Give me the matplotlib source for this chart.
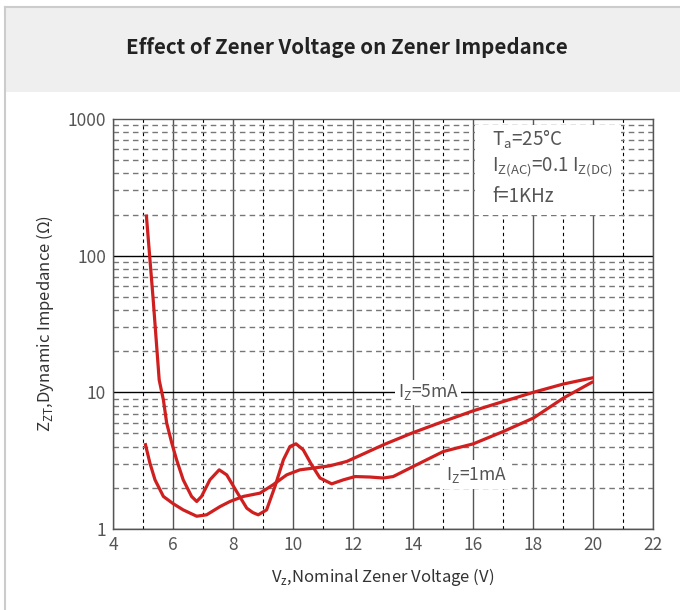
import matplotlib.pyplot as plt
from matplotlib.patches import Rectangle

plt.rcParams['font.family'] = ['Noto Sans CJK SC', 'DejaVu Sans']

# Iz = 1mA curve (starts high at ~200 ohm)
vz_1ma = [5.11, 5.34, 5.54, 5.68, 5.79, 5.96, 6.12, 6.34, 6.62, 6.79, 6.95, 7.23, 7.54,
          7.79, 8.12, 8.46, 8.66, 8.84, 9.12, 9.4, 9.68, 9.9, 10.1, 10.34, 10.62,
          10.9, 11.29, 11.68, 12.07, 12.57, 13.01, 13.34, 14.01, 15.01, 16.01,
          17.01, 18.01, 19.01, 20.01]
z_1ma = [200, 47.5, 12.3, 8.8, 5.95, 4.25, 3.21, 2.29, 1.73, 1.59, 1.73, 2.29, 2.71,
         2.49, 1.88, 1.42, 1.32, 1.27, 1.38, 2.05, 3.21, 4.02, 4.2, 3.8, 2.95,
         2.36, 2.14, 2.29, 2.42, 2.4, 2.36, 2.42, 2.87, 3.69, 4.2,
         5.17, 6.48, 9.07, 12.0]

# Iz = 5mA curve
vz_5ma = [5.07, 5.23, 5.4, 5.68, 6.01, 6.34, 6.79, 7.12, 7.57, 7.9, 8.34, 8.9, 9.34,
          9.79, 10.23, 10.68, 11.23, 11.79, 12.23, 12.51, 13.01, 14.01, 15.01, 16.01,
          17.01, 18.01, 19.01, 20.01]
z_5ma = [4.25, 3.04, 2.29, 1.73, 1.53, 1.38, 1.24, 1.27, 1.46, 1.59, 1.73, 1.83, 2.11,
         2.49, 2.71, 2.79, 2.9, 3.12, 3.45, 3.68, 4.13, 5.08, 6.12, 7.33,
         8.57, 10.0, 11.5, 12.8]

x_ticks = [4, 6, 8, 10, 12, 14, 16, 18, 20, 22]
y_ticks = [1, 10, 100, 1000]

red = '#d01f1f'
txt = '#555555'

fig = plt.figure(figsize=(6.8, 6.1), dpi=100)

# header band and panel border
fig.patches.append(Rectangle((5 / 680, 1 - 92 / 610), 1, 85 / 610, transform=fig.transFigure,
                             facecolor='#efefef', edgecolor='none', zorder=0))
fig.add_artist(plt.Line2D([5 / 680, 5 / 680], [0, 1 - 7 / 610], transform=fig.transFigure,
                          color='#cccccc', lw=1.5))
fig.add_artist(plt.Line2D([5 / 680, 1], [1 - 7 / 610, 1 - 7 / 610], transform=fig.transFigure,
                          color='#cccccc', lw=1.5))
fig.text(347 / 680, 1 - 47 / 610, 'Effect of Zener Voltage on Zener Impedance',
         ha='center', va='center', fontsize=14.8, color='#222222', fontweight='bold')

ax = fig.add_axes([113 / 680, 1 - 529 / 610, 540 / 680, 410 / 610])
ax.set_yscale('log')
ax.set_xlim(4, 22)
ax.set_ylim(1, 1000)

# grid
for x in range(4, 23, 2):
    ax.axvline(x, color='#555555', lw=1.0, zorder=1)
for x in range(5, 22, 2):
    ax.axvline(x, color='black', lw=0.8, ls=(0, (3, 3)), zorder=1)
for d in [1, 10, 100]:
    ax.axhline(d, color='black', lw=1.0, zorder=1)
    for m in range(2, 10):
        ax.axhline(d * m, color='#777777', lw=1.0, ls=(0, (4, 3)), zorder=1)

ax.plot(vz_1ma, z_1ma, color=red, lw=2.3, zorder=4, solid_capstyle='butt', solid_joinstyle='round')
ax.plot(vz_5ma, z_5ma, color=red, lw=2.3, zorder=4, solid_capstyle='butt', solid_joinstyle='round')

# conditions box
ax.add_patch(Rectangle((16.07, 200), 4.86, 700, facecolor='white', edgecolor='none', zorder=2))
ax.text(16.65, 701, r'T$_{\mathregular{a}}$=25°C', fontsize=13.5, color=txt, va='center', zorder=3)
ax.text(16.65, 446, r'I$_{\mathregular{Z(AC)}}$=0.1 I$_{\mathregular{Z(DC)}}$', fontsize=13.5,
        color=txt, va='center', zorder=3)
ax.text(16.65, 269, 'f=1KHz', fontsize=13.5, color=txt, va='center', zorder=3)

ax.text(14.5, 10, r'I$_{\mathregular{Z}}$=5mA', fontsize=12.5, color=txt, ha='center', va='center',
        zorder=3, bbox=dict(facecolor='white', edgecolor='none', pad=2))
ax.text(16.1, 2.5, r'I$_{\mathregular{Z}}$=1mA', fontsize=12.5, color=txt, ha='center', va='center',
        zorder=3, bbox=dict(facecolor='white', edgecolor='none', pad=3))

ax.set_xticks(x_ticks)
ax.set_xticklabels([str(v) for v in x_ticks])
ax.set_yticks(y_ticks)
ax.set_yticklabels([str(v) for v in y_ticks])
ax.minorticks_off()
ax.tick_params(length=0, labelsize=12.5, labelcolor=txt, pad=5)
for s in ax.spines.values():
    s.set_color('#555555')
    s.set_linewidth(1.0)

ax.set_xlabel(r'V$_{\mathregular{z}}$,Nominal Zener Voltage (V)', fontsize=12, color='#333333',
              labelpad=9)
ax.set_ylabel(r'Z$_{\mathregular{ZT}}$,Dynamic Impedance ($\mathregular{\Omega}$)', fontsize=12,
              color='#333333', labelpad=8)

fig.savefig('out.png', dpi=100)
